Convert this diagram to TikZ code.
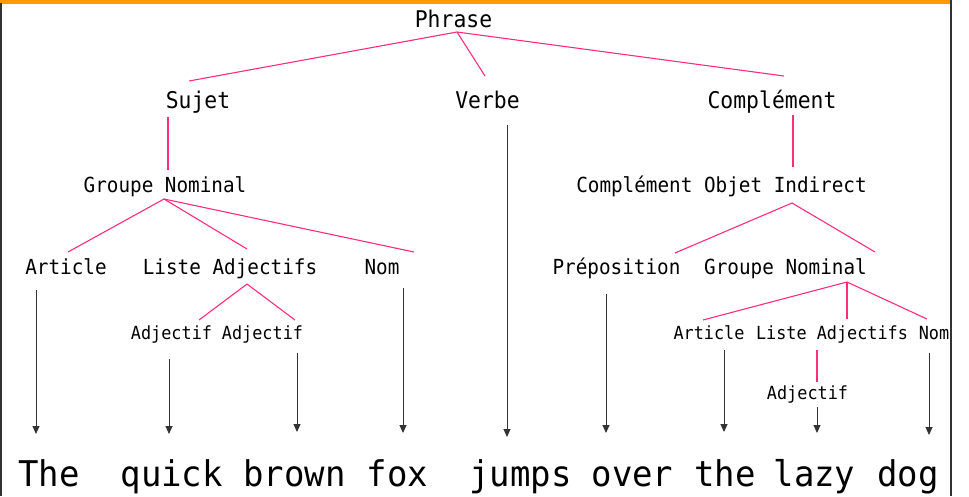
\documentclass[tikz,border=0pt]{standalone}
\usepackage{fontspec}
\newfontfamily\treemono[FakeStretch=0.93]{DejaVu Sans Mono}
\newfontfamily\wordmono[FakeStretch=0.96]{DejaVu Sans Mono}
\usetikzlibrary{arrows.meta}
\definecolor{treepink}{HTML}{FF2E7A}
\definecolor{barorange}{HTML}{FF9A00}
\definecolor{framegray}{HTML}{333333}

\begin{document}
\begin{tikzpicture}[x=1pt,y=-1pt,
  lbl/.style={inner sep=0pt, anchor=base},
  lvltop/.style={lbl, font=\treemono\fontsize{23}{26}\selectfont},
  lvlmid/.style={lbl, font=\treemono\fontsize{20.75}{24}\selectfont},
  lvllow/.style={lbl, font=\treemono\fontsize{18.1}{21}\selectfont},
  word/.style={lbl, font=\wordmono\fontsize{35.4}{40}\selectfont},
  branch/.style={draw=treepink, line width=1.1pt},
  leaf/.style={draw=black!80, line width=1pt, -{Triangle[width=7pt,length=8pt]}}]

\useasboundingbox (0,0) rectangle (969,496);

% frame of the slide
\fill[barorange] (0,0) rectangle (951,3.5);
\draw[framegray, line width=1.8pt] (1,3) -- (1,496);
\draw[framegray, line width=1.5pt] (951,0) -- (951,496);

\begin{scope}
\clip (2,3.5) rectangle (950.2,496);

% ---- tree labels ----
\node[lvltop] (phrase) at (453.5,27) {Phrase};
\node[lvltop] (sujet) at (198,108) {Sujet};
\node[lvltop] (verbe) at (487.5,108) {Verbe};
\node[lvltop] (compl) at (772,108) {Complément};

\node[lvlmid] (gn1) at (165,192) {Groupe Nominal};
\node[lvlmid] (coi) at (721.5,192) {Complément Objet Indirect};

\node[lvlmid] (art1) at (66,274) {Article};
\node[lvlmid] (liste1) at (230,274) {Liste Adjectifs};
\node[lvlmid] (nom1) at (382,274) {Nom};
\node[lvlmid] (prep) at (616.5,274) {Préposition};
\node[lvlmid] (gn2) at (785.5,274) {Groupe Nominal};

\node[lvllow] (adj1a) at (171.5,339) {Adjectif};
\node[lvllow] (adj1b) at (262.5,339) {Adjectif};
\node[lvllow] (art2) at (709,339) {Article};
\node[lvllow] (liste2) at (832,339) {Liste Adjectifs};
\node[lvllow] (nom2) at (934,339) {Nom};
\node[lvllow] (adj3) at (807.5,399) {Adjectif};

% ---- sentence ----
\node[word] (w-the) at (49,486) {The};
\node[word] (w-quick) at (171.7,486) {quick};
\node[word] (w-brown) at (294.4,486) {brown};
\node[word] (w-fox) at (397.5,486) {fox};
\node[word] (w-jumps) at (520.5,486) {jumps};
\node[word] (w-over) at (632.5,486) {over};
\node[word] (w-the2) at (725,486) {the};
\node[word] (w-lazy) at (814.5,486) {lazy};
\node[word] (w-dog) at (908,486) {dog};

% ---- attachment points of the branches ----
\coordinate (phrase-b) at (457,32);
\coordinate (sujet-t) at (189,81);
\coordinate (verbe-t) at (485,76);
\coordinate (compl-t) at (784,76);
\coordinate (sujet-b) at (168,117);
\coordinate (gn1-t) at (168,170);
\coordinate (gn1-b) at (164,199);
\coordinate (art1-t) at (68,252);
\coordinate (liste1-t) at (247,249);
\coordinate (nom1-t) at (414,252);
\coordinate (liste1-b) at (247,284);
\coordinate (adj1a-t) at (199,320);
\coordinate (adj1b-t) at (295,320);
\coordinate (compl-b) at (793,115);
\coordinate (coi-t) at (793,167);
\coordinate (coi-b) at (792,203);
\coordinate (prep-t) at (675,253);
\coordinate (gn2-t) at (875,252);
\coordinate (gn2-b) at (847,282);
\coordinate (art2-t) at (703,320);
\coordinate (liste2-t) at (847,319);
\coordinate (nom2-t) at (927,319);
\coordinate (liste2-b) at (817,350);
\coordinate (adj3-t) at (817,382);

% ---- branches ----
\draw[branch] (sujet-t) -- (phrase-b) -- (compl-t);
\draw[branch] (phrase-b) -- (verbe-t);
\draw[branch] (sujet-b) -- (gn1-t);
\draw[branch] (art1-t) -- (gn1-b) -- (nom1-t);
\draw[branch] (gn1-b) -- (liste1-t);
\draw[branch] (adj1a-t) -- (liste1-b) -- (adj1b-t);
\draw[branch] (compl-b) -- (coi-t);
\draw[branch] (prep-t) -- (coi-b) -- (gn2-t);
\draw[branch] (art2-t) -- (gn2-b) -- (nom2-t);
\draw[branch] (gn2-b) -- (liste2-t);
\draw[branch] (liste2-b) -- (adj3-t);

% ---- leaves pointing at the words ----
\coordinate (art1-o) at (36,290);   \coordinate (the-i) at (36,434);
\coordinate (adj1a-o) at (169,359); \coordinate (quick-i) at (169,434);
\coordinate (adj1b-o) at (297,353); \coordinate (brown-i) at (297,432);
\coordinate (nom1-o) at (403,288);  \coordinate (fox-i) at (403,433);
\coordinate (verbe-o) at (507,125); \coordinate (jumps-i) at (507,437);
\coordinate (prep-o) at (606,294);  \coordinate (over-i) at (606,433);
\coordinate (art2-o) at (724,350);  \coordinate (the2-i) at (724,432);
\coordinate (adj3-o) at (817,407);  \coordinate (lazy-i) at (817,433);
\coordinate (nom2-o) at (929,353);  \coordinate (dog-i) at (929,435);

\draw[leaf] (art1-o) -- (the-i);
\draw[leaf] (adj1a-o) -- (quick-i);
\draw[leaf] (adj1b-o) -- (brown-i);
\draw[leaf] (nom1-o) -- (fox-i);
\draw[leaf] (verbe-o) -- (jumps-i);
\draw[leaf] (prep-o) -- (over-i);
\draw[leaf] (art2-o) -- (the2-i);
\draw[leaf] (adj3-o) -- (lazy-i);
\draw[leaf] (nom2-o) -- (dog-i);
\end{scope}
\end{tikzpicture}
\end{document}
